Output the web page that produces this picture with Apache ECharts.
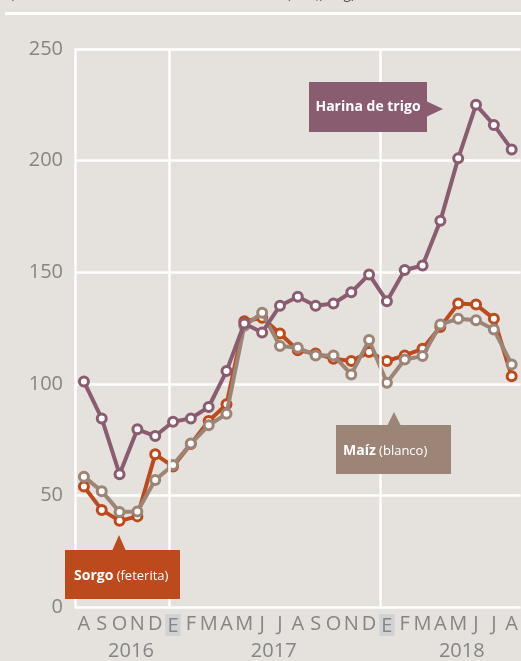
<!DOCTYPE html>
<html>
<head>
<meta charset="utf-8">
<script src="https://cdn.jsdelivr.net/npm/echarts@6/dist/echarts.min.js"></script>
<style>
  html, body { margin: 0; padding: 0; background: #e5e1dd; }
  #main { width: 521px; height: 661px; }
</style>
</head>
<body>
<div id="main"></div>
<script>
// meses ago 2016 - ago 2018
var months = ['A','S','O','N','D','E','F','M','A','M','J','J','A','S','O','N','D','E','F','M','A','M','J','J','A'];
var years = ['2016', '2017', '2018'];
var yearPos = [2.64, 10.65, 21.2];   // centro de cada año, en índice de mes
var janLines = [4.8, 16.65];          // líneas verticales de enero

var harina = [101, 84.5, 59.5, 79.6, 76.6, 83, 84.5, 89.6, 105.7, 127, 123, 135, 139, 135, 136, 141, 149, 137, 151, 153, 173, 201, 225, 216, 205];
var sorgo  = [54, 43.5, 38.6, 40.6, 68.4, 63, 73, 83.3, 90.8, 128, 129.6, 122.5, 115, 113.6, 111.2, 110.2, 114.2, 110.2, 112.7, 115.7, 125.5, 136, 135.5, 129.2, 103.4];
var maiz   = [58.4, 51.9, 42.6, 42.8, 56.9, 63.6, 73.2, 81.4, 86.6, 126, 131.8, 116.9, 116.1, 112.7, 112.7, 104.2, 119.6, 100.5, 110.9, 112.4, 126.6, 129.1, 128.5, 124.3, 108.7];

var C_HARINA = '#8a5c70', C_SORGO = '#bd4a1d', C_MAIZ = '#9c8576';
var FONT = '"Open Sans", "Noto Sans", sans-serif';
var GREY = '#858585';

function pairs(arr) {
    return arr.map(function(v, i) { return [i, v]; });
}

function lineSeries(name, data, color, z) {
    return {
        name: name,
        type: 'line',
        data: pairs(data),
        z: z,
        symbol: 'circle',
        symbolSize: 9,
        lineStyle: { color: color, width: 4 },
        itemStyle: { color: '#fff', borderColor: color, borderWidth: 3 },
        emphasis: { disabled: true },
        animation: false
    };
}

var myChart = echarts.init(document.getElementById('main'));

var option = {
    backgroundColor: '#e5e1dd',
    animation: false,
    grid: { left: 75, right: 0, top: 49, bottom: 53 },
    xAxis: [{
        type: 'value',
        min: -0.5,
        max: 24.5,
        axisLine: { show: false },
        axisTick: { show: false },
        splitLine: { show: false },
        axisLabel: {
            customValues: months.map(function(m, i) { return i; }),
            margin: 7,
            color: GREY,
            fontFamily: FONT,
            fontSize: 20,
            formatter: function(v) {
                var m = months[Math.round(v)];
                return m === 'E' ? '{e|E}' : m;
            },
            rich: {
                e: { backgroundColor: '#d0d2d4', padding: [2, 2, 0, 2], color: GREY, fontFamily: FONT, fontSize: 20 }
            }
        }
    }, {
        type: 'value',
        position: 'bottom',
        min: -0.5,
        max: 24.5,
        offset: 26,
        axisLine: { show: false },
        axisTick: { show: false },
        splitLine: { show: false },
        axisLabel: {
            customValues: yearPos,
            color: GREY,
            fontFamily: FONT,
            fontSize: 20,
            formatter: function(v) {
                return years[yearPos.indexOf(v)];
            }
        }
    }],
    yAxis: {
        type: 'value',
        min: 0,
        max: 250,
        interval: 50,
        axisLine: { show: true, onZero: false, lineStyle: { color: '#fff', width: 2.5 } },
        axisTick: { show: false },
        splitLine: { lineStyle: { color: '#fff', width: 2.5 } },
        axisLabel: { color: GREY, fontFamily: FONT, fontSize: 20, margin: 12 }
    },
    series: [
        lineSeries('Sorgo', sorgo, C_SORGO, 3),
        lineSeries('Maíz', maiz, C_MAIZ, 4),
        lineSeries('Harina de trigo', harina, C_HARINA, 5),
        {
            type: 'line',
            data: [],
            markLine: {
                silent: true,
                symbol: 'none',
                label: { show: false },
                lineStyle: { color: '#fff', width: 2.5, type: 'solid' },
                data: janLines.map(function(x) { return { xAxis: x }; })
            },
            z: 1
        }
    ],
    graphic: [
        // título cortado arriba
        { type: 'text', left: 10, top: -13, z: 10,
          style: { text: '(Precio mensual nominal en moneda local (GTQ) / kg)', fill: '#555', font: '14px ' + FONT } },
        { type: 'rect', shape: { x: 5, y: 12, width: 516, height: 3 }, style: { fill: '#fff' } },

        // Harina de trigo
        { type: 'rect', z: 10, shape: { x: 309, y: 82, width: 118, height: 50 }, style: { fill: C_HARINA } },
        { type: 'polygon', z: 10, shape: { points: [[426, 101], [443, 109], [426, 117]] }, style: { fill: C_HARINA } },
        { type: 'text', z: 11, x: 368, y: 107,
          style: { text: 'Harina de trigo', fill: '#fff', font: 'bold 14px ' + FONT, align: 'center', verticalAlign: 'middle' } },

        // Sorgo
        { type: 'rect', z: 10, shape: { x: 65, y: 550, width: 115, height: 49 }, style: { fill: C_SORGO } },
        { type: 'polygon', z: 10, shape: { points: [[112, 551], [119, 535], [126, 551]] }, style: { fill: C_SORGO } },
        { type: 'text', z: 11, x: 74, y: 576,
          style: { text: '{b|Sorgo} {r|(feterita)}', fill: '#fff', verticalAlign: 'middle',
                   rich: { b: { font: 'bold 14px ' + FONT, fill: '#fff' }, r: { font: '13px ' + FONT, fill: '#fff' } } } },

        // Maíz
        { type: 'rect', z: 10, shape: { x: 336, y: 425, width: 115, height: 49 }, style: { fill: C_MAIZ } },
        { type: 'polygon', z: 10, shape: { points: [[387, 426], [394, 412], [401, 426]] }, style: { fill: C_MAIZ } },
        { type: 'text', z: 11, x: 343, y: 451,
          style: { text: '{b|Maíz} {r|(blanco)}', fill: '#fff', verticalAlign: 'middle',
                   rich: { b: { font: 'bold 14px ' + FONT, fill: '#fff' }, r: { font: '13px ' + FONT, fill: '#fff' } } } }
    ]
};
myChart.setOption(option);
</script>
</body>
</html>
